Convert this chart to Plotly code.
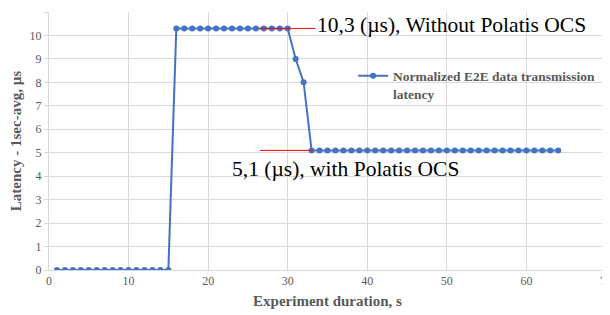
import plotly.graph_objects as go

x_vals = list(range(1, 65))
y_vals = [0.0]*15 + [10.3]*15 + [9.0, 8.0] + [5.1]*32
series_name = "Normalized E2E data transmission<br>latency"
x_ticks = [0, 10, 20, 30, 40, 50, 60, 70]
y_ticks = list(range(0, 12))

font_fam = "Times New Roman, Liberation Serif, serif"
blue = "#4472C4"

fig = go.Figure()
fig.add_trace(go.Scatter(x=x_vals, y=y_vals, mode="lines+markers", name=series_name,
                         line=dict(color=blue, width=2), marker=dict(color=blue, size=6)))

fig.add_shape(type="line", x0=26.5, x1=33.5, y0=10.3, y1=10.3, line=dict(color="red", width=1))
fig.add_shape(type="line", x0=26.5, x1=33.2, y0=5.1, y1=5.1, line=dict(color="red", width=1))

fig.add_annotation(x=33.4, y=10.45, text="10,3 (µs), Without Polatis OCS", showarrow=False,
                   xanchor="left", yanchor="middle", font=dict(family=font_fam, size=21.5, color="#000000"))
fig.add_annotation(x=22.7, y=4.3, text="5,1 (µs), with Polatis OCS", showarrow=False,
                   xanchor="left", yanchor="middle", font=dict(family=font_fam, size=21.5, color="#000000"))

fig.update_layout(
    width=610, height=315,
    margin=dict(l=41, r=12, t=4, b=53),
    paper_bgcolor="white", plot_bgcolor="white",
    font=dict(family=font_fam, color="#595959"),
    showlegend=True,
    legend=dict(x=0.546, y=0.812, xanchor="left", yanchor="top", bgcolor="rgba(0,0,0,0)",
                valign="top",
                font=dict(family=font_fam, size=13.5, color="#595959", weight="bold"),
                itemwidth=30),
    xaxis=dict(range=[0, 70], tickvals=x_ticks, showgrid=True, gridcolor="#D9D9D9", gridwidth=1,
               zeroline=False, showline=True, linecolor="#D9D9D9", ticks="", automargin=False,
               tickfont=dict(family=font_fam, size=12, color="#595959"),
               title=dict(text="<b>Experiment duration, s</b>", font=dict(family=font_fam, size=15, color="#595959"), standoff=8)),
    yaxis=dict(range=[0, 11], tickvals=y_ticks, showgrid=True, gridcolor="#D9D9D9", gridwidth=1,
               zeroline=False, showline=True, linecolor="#D9D9D9", ticks="outside", ticklen=4,
               tickcolor="#D9D9D9", automargin=False,
               tickfont=dict(family=font_fam, size=12, color="#595959"),
               title=dict(text="<b>Latency - 1sec-avg, µs</b>", font=dict(family=font_fam, size=15, color="#595959"), standoff=8)),
)

fig.write_html("out.html")
